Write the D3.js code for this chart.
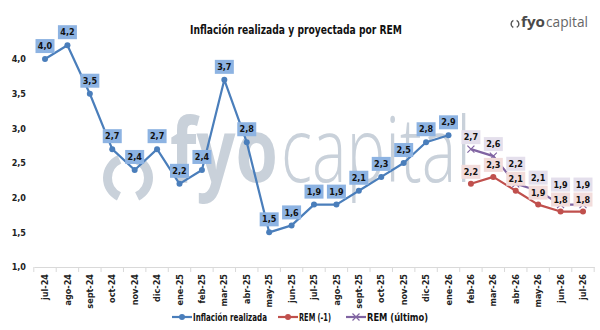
<!DOCTYPE html>
<html><head><meta charset="utf-8">
<script src="https://cdn.jsdelivr.net/npm/d3@7"></script>
<style>body{margin:0;background:#fff}svg{display:block}</style>
</head><body>
<svg id="c" width="600" height="330"></svg>
<script>
const categories=["jul-24","ago-24","sept-24","oct-24","nov-24","dic-24","ene-25","feb-25","mar-25","abr-25","may-25","jun-25","jul-25","ago-25","sept-25","oct-25","nov-25","dic-25","ene-26","feb-26","mar-26","abr-26","may-26","jun-26","jul-26"];
const realizada=[4.0,4.2,3.5,2.7,2.4,2.7,2.2,2.4,3.7,2.8,1.5,1.6,1.9,1.9,2.1,2.3,2.5,2.8,2.9,null,null,null,null,null,null];
const remAnterior=[null,null,null,null,null,null,null,null,null,null,null,null,null,null,null,null,null,null,null,2.2,2.3,2.1,1.9,1.8,1.8];
const remUltimo=[null,null,null,null,null,null,null,null,null,null,null,null,null,null,null,null,null,null,null,2.7,2.6,2.2,2.1,1.9,1.9];
const yTicks=[1.0,1.5,2.0,2.5,3.0,3.5,4.0];
const seriesNames=["Inflación realizada","REM (-1)","REM (último)"];
const titleText="Inflación realizada y proyectada por REM";

const FONT='"Liberation Sans Narrow","DejaVu Sans Condensed","Roboto",sans-serif';
const svg=d3.select("#c");
const x=d3.scaleBand().domain(categories).range([33.8,594.2]).padding(0);
const y=d3.scaleLinear().domain([1,4.5]).range([267,24.4]);
const cx=c=>x(c)+x.bandwidth()/2;
const fmt=v=>d3.format(".1f")(v).replace(".",",");

// watermark
const WM="#c9d1da";
const wm=svg.append("g").attr("fill",WM).attr("stroke","none");
const arc=d3.arc().innerRadius(16).outerRadius(25);
wm.append("path").attr("transform","translate(128,178)").attr("d",arc({startAngle:3.6,endAngle:5.85}));
wm.append("path").attr("transform","translate(128,178)").attr("d",arc({startAngle:0.43,endAngle:2.68}));
wm.append("text").attr("x",170).attr("y",182).attr("font-family","'Open Sans',sans-serif").attr("font-weight",700)
  .attr("font-size",90).attr("textLength",108).attr("lengthAdjust","spacingAndGlyphs").text("fyo");
wm.append("text").attr("x",281).attr("y",182).attr("font-family","'Open Sans',sans-serif").attr("font-weight",300)
  .attr("font-size",90).attr("textLength",190).attr("lengthAdjust","spacingAndGlyphs").text("capital");

// title
svg.append("text").attr("x",296).attr("y",34).attr("text-anchor","middle").attr("font-family",FONT)
  .attr("font-weight",700).attr("font-size",13).attr("fill","#111").attr("textLength",212).attr("lengthAdjust","spacingAndGlyphs").text(titleText);

// logo
const lg=svg.append("g").attr("fill","#555");
const arcS=d3.arc().innerRadius(3.2).outerRadius(4.6);
lg.append("path").attr("transform","translate(515,24)").attr("d",arcS({startAngle:3.6,endAngle:5.85}));
lg.append("path").attr("transform","translate(515,24)").attr("d",arcS({startAngle:0.43,endAngle:2.68}));
lg.append("text").attr("x",521).attr("y",27).attr("font-family","'Open Sans',sans-serif").attr("font-weight",700).attr("font-size",15).attr("fill","#4a4a4a").attr("textLength",24).attr("lengthAdjust","spacingAndGlyphs").text("fyo");
lg.append("text").attr("x",546).attr("y",27).attr("font-family","'Open Sans',sans-serif").attr("font-weight",400).attr("font-size",15).attr("fill","#666").attr("textLength",42).attr("lengthAdjust","spacingAndGlyphs").text("capital");

// y axis
const yAxis=d3.axisLeft(y).tickValues(yTicks).tickSize(0).tickPadding(0).tickFormat(fmt);
const ga=svg.append("g").attr("transform","translate(26,0)").call(yAxis);
ga.select(".domain").remove();
ga.selectAll("text").attr("font-family",FONT).attr("font-weight",700).attr("font-size",9).attr("fill","#222");

// x axis
const xAxis=d3.axisBottom(x).tickSize(0).tickPadding(0);
const gx=svg.append("g").attr("transform","translate(0,267)").call(xAxis);
gx.select(".domain").attr("stroke","#d9d9d9");
gx.selectAll("text").attr("font-family",FONT).attr("font-weight",700).attr("font-size",9).attr("fill","#222")
  .attr("transform","rotate(-90)").attr("text-anchor","end").attr("dy","0.35em").attr("x",-7).attr("y",0);
const bounds=categories.map(c=>x(c)).concat([x(categories[categories.length-1])+x.bandwidth()]);
svg.append("g").selectAll("line").data(bounds).join("line")
  .attr("x1",d=>d).attr("x2",d=>d).attr("y1",267).attr("y2",272).attr("stroke","#d9d9d9");

// series
const series=[
  {name:seriesNames[0],vals:realizada,color:"#4a7ebb",marker:"circle",lab:"#8db3e2"},
  {name:seriesNames[1],vals:remAnterior,color:"#c0504d",marker:"circle",lab:"#f2dcdb"},
  {name:seriesNames[2],vals:remUltimo,color:"#8064a2",marker:"x",lab:"#e4dfec"}
];
const line=d3.line().defined(d=>d.v!=null).x(d=>cx(d.c)).y(d=>y(d.v));
function drawMarker(g,type,color,px,py){
  if(type==="circle") g.append("circle").attr("cx",px).attr("cy",py).attr("r",3).attr("fill",color);
  else{
    g.append("path").attr("d",`M${px-3.5},${py-3.5}L${px+3.5},${py+3.5}M${px-3.5},${py+3.5}L${px+3.5},${py-3.5}`).attr("stroke",color).attr("stroke-width",1.2).attr("fill","none");
  }
}
series.forEach(s=>{
  const pts=categories.map((c,i)=>({c,v:s.vals[i]}));
  svg.append("path").datum(pts).attr("d",line).attr("fill","none").attr("stroke",s.color).attr("stroke-width",2.2).attr("stroke-linejoin","round");
  const mg=svg.append("g");
  pts.filter(d=>d.v!=null).forEach(d=>drawMarker(mg,s.marker,s.color,cx(d.c),y(d.v)));
});

// labels
const OFF=13;
const labelsG=svg.append("g");
function drawLabel(px,py,txt,fill){
  const g=labelsG.append("g").attr("transform",`translate(${px},${py})`);
  const w=19,h=14;
  g.append("rect").attr("x",-w/2).attr("y",-h/2).attr("width",w).attr("height",h).attr("fill",fill);
  g.append("text").attr("text-anchor","middle").attr("dy","0.35em").attr("font-family",FONT).attr("font-weight",700).attr("font-size",9).attr("fill","#111").text(txt);
}
categories.forEach((c,i)=>{
  if(realizada[i]!=null) drawLabel(cx(c),y(realizada[i])-OFF,fmt(realizada[i]),series[0].lab);
});
categories.forEach((c,i)=>{
  if(remAnterior[i]!=null){
    const ly1=y(remAnterior[i])-OFF+1;
    drawLabel(cx(c),ly1,fmt(remAnterior[i]),series[1].lab);
    if(remUltimo[i]!=null){
      let ly2=y(remUltimo[i])-OFF+1;
      if(ly1-ly2<15) ly2=ly1-15;
      drawLabel(cx(c),ly2,fmt(remUltimo[i]),series[2].lab);
    }
  }
});

// legend
const legX=[172,278,346], legW=[74,32,61];
series.forEach((s,i)=>{
  const g=svg.append("g").attr("transform",`translate(${legX[i]},317)`);
  g.append("line").attr("x1",0).attr("x2",20).attr("y1",0).attr("y2",0).attr("stroke",s.color).attr("stroke-width",2.2);
  drawMarker(g,s.marker,s.color,10,0);
  g.append("text").attr("x",21).attr("y",0).attr("dy","0.35em").attr("font-family",FONT).attr("font-weight",700).attr("font-size",10).attr("fill","#111")
    .attr("textLength",legW[i]).attr("lengthAdjust","spacingAndGlyphs").text(s.name);
});
</script>
</body></html>
